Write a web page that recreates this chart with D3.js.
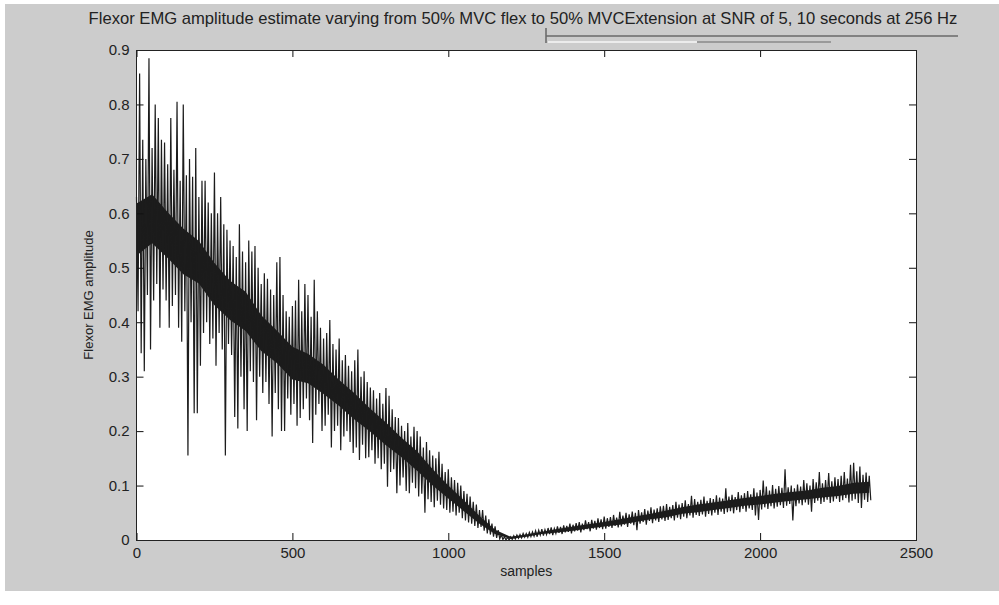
<!DOCTYPE html>
<html>
<head>
<meta charset="utf-8">
<script src="https://cdn.jsdelivr.net/npm/d3@7"></script>
<style>
body { margin: 0; background: #fff; }
svg { display: block; font-family: "Liberation Sans", Arial, sans-serif; }
</style>
</head>
<body>
<svg id="chart" width="999" height="605"></svg>
<script>
const titleText = "Flexor EMG amplitude estimate varying from 50% MVC flex to 50% MVCExtension at SNR of 5, 10 seconds at 256 Hz"
const xLabel = "samples"
const yLabel = "Flexor EMG amplitude"
const xTicks = [0, 500, 1000, 1500, 2000, 2500]
const yTicks = [0, 0.1, 0.2, 0.3, 0.4, 0.5, 0.6, 0.7, 0.8, 0.9]

// spike extremes, one pair per 10-sample bin (sample 0, 10, ... 2350)
const binStep = 10
const spikeHi = [
  0.63, 0.857, 0.735, 0.70, 0.885, 0.72, 0.80, 0.775, 0.735, 0.73,
  0.69, 0.775, 0.68, 0.805, 0.66, 0.80, 0.67, 0.70, 0.667, 0.72,
  0.63, 0.66, 0.66, 0.62, 0.60, 0.675, 0.60, 0.63, 0.58, 0.57,
  0.55, 0.54, 0.52, 0.58, 0.53, 0.51, 0.55, 0.53, 0.54, 0.50,
  0.47, 0.49, 0.48, 0.46, 0.45, 0.51, 0.52, 0.45, 0.42, 0.41,
  0.43, 0.44, 0.478, 0.42, 0.47, 0.45, 0.41, 0.478, 0.42, 0.39,
  0.37, 0.38, 0.404, 0.36, 0.35, 0.37, 0.33, 0.34, 0.32, 0.31,
  0.33, 0.35, 0.30, 0.31, 0.29, 0.28, 0.275, 0.26, 0.27, 0.25,
  0.279, 0.265, 0.24, 0.226, 0.224, 0.21, 0.20, 0.215, 0.19, 0.208,
  0.20, 0.19, 0.17, 0.18, 0.165, 0.155, 0.15, 0.162, 0.14, 0.125,
  0.13, 0.115, 0.11, 0.105, 0.10, 0.09, 0.085, 0.08, 0.07, 0.065,
  0.055, 0.055, 0.045, 0.038, 0.03, 0.025, 0.018, 0.01, 0.006, 0.005,
  0.006, 0.008, 0.009, 0.01, 0.012, 0.012, 0.014, 0.015, 0.017, 0.018,
  0.02, 0.019, 0.022, 0.023, 0.021, 0.025, 0.024, 0.027, 0.026, 0.03,
  0.028, 0.031, 0.033, 0.03, 0.036, 0.033, 0.037, 0.035, 0.04, 0.038,
  0.043, 0.04, 0.042, 0.046, 0.041, 0.052, 0.045, 0.05, 0.047, 0.052,
  0.05, 0.055, 0.051, 0.057, 0.054, 0.06, 0.056, 0.058, 0.062, 0.063,
  0.066, 0.061, 0.064, 0.07, 0.065, 0.068, 0.073, 0.066, 0.081, 0.075,
  0.07, 0.074, 0.08, 0.072, 0.077, 0.075, 0.082, 0.078, 0.076, 0.095,
  0.08, 0.083, 0.079, 0.088, 0.082, 0.086, 0.09, 0.084, 0.095, 0.087,
  0.092, 0.109, 0.098, 0.091, 0.101, 0.094, 0.099, 0.096, 0.13, 0.097,
  0.1, 0.095, 0.102, 0.098, 0.11, 0.104, 0.1, 0.112, 0.106, 0.125,
  0.104, 0.11, 0.123, 0.108, 0.115, 0.112, 0.118, 0.125, 0.113, 0.138,
  0.142, 0.126, 0.135, 0.12, 0.124, 0.118
]
const spikeLo = [
  0.42, 0.343, 0.31, 0.45, 0.35, 0.44, 0.47, 0.39, 0.46, 0.44,
  0.39, 0.43, 0.45, 0.39, 0.364, 0.42, 0.155, 0.40, 0.233, 0.233,
  0.32, 0.38, 0.40, 0.36, 0.37, 0.32, 0.38, 0.35, 0.155, 0.36,
  0.34, 0.226, 0.205, 0.30, 0.24, 0.20, 0.31, 0.29, 0.22, 0.30,
  0.27, 0.29, 0.25, 0.19, 0.27, 0.24, 0.20, 0.20, 0.26, 0.23,
  0.25, 0.21, 0.224, 0.24, 0.26, 0.22, 0.178, 0.23, 0.25, 0.20,
  0.21, 0.23, 0.17, 0.20, 0.21, 0.165, 0.19, 0.20, 0.18, 0.16,
  0.17, 0.147, 0.175, 0.15, 0.152, 0.165, 0.14, 0.15, 0.13, 0.14,
  0.098, 0.125, 0.13, 0.086, 0.10, 0.115, 0.09, 0.086, 0.105, 0.095,
  0.08, 0.085, 0.05, 0.075, 0.07, 0.06, 0.072, 0.065, 0.058, 0.055,
  0.05, 0.052, 0.045, 0.05, 0.04, 0.036, 0.032, 0.03, 0.026, 0.022,
  0.024, 0.017, 0.012, 0.01, 0.006, 0.004, 0.002, 0.001, 0.0, 0.0,
  0.001, 0.002, 0.003, 0.004, 0.005, 0.005, 0.006, 0.007, 0.006, 0.009,
  0.008, 0.01, 0.011, 0.009, 0.012, 0.013, 0.011, 0.014, 0.015, 0.012,
  0.016, 0.017, 0.014, 0.018, 0.02, 0.016, 0.021, 0.019, 0.022, 0.02,
  0.021, 0.024, 0.022, 0.026, 0.023, 0.025, 0.028, 0.024, 0.03, 0.027,
  0.018, 0.03, 0.033, 0.028, 0.035, 0.031, 0.036, 0.033, 0.038, 0.035,
  0.037, 0.04, 0.036, 0.041, 0.038, 0.043, 0.04, 0.045, 0.041, 0.046,
  0.044, 0.047, 0.043, 0.048, 0.045, 0.05, 0.046, 0.052, 0.048, 0.051,
  0.053, 0.049, 0.055, 0.051, 0.057, 0.052, 0.058, 0.055, 0.045, 0.037,
  0.056, 0.06, 0.057, 0.062, 0.058, 0.061, 0.064, 0.059, 0.063, 0.066,
  0.036, 0.062, 0.067, 0.064, 0.069, 0.065, 0.052, 0.068, 0.072, 0.066,
  0.07, 0.074, 0.068, 0.071, 0.076, 0.07, 0.073, 0.077, 0.069, 0.072,
  0.075, 0.068, 0.059, 0.074, 0.07, 0.073
]

// dense core of the trace, every 50 samples
const coreStep = 50
const coreHi = [
  0.618, 0.635, 0.602, 0.572, 0.549, 0.509, 0.476, 0.456, 0.413, 0.385,
  0.355, 0.342, 0.322, 0.294, 0.269, 0.241, 0.216, 0.188, 0.163, 0.13,
  0.10, 0.073, 0.044, 0.019, 0.006, 0.010, 0.015, 0.020, 0.025, 0.029,
  0.033, 0.038, 0.043, 0.048, 0.054, 0.060, 0.065, 0.069, 0.073, 0.077,
  0.081, 0.085, 0.088, 0.091, 0.096, 0.099, 0.105, 0.107
]
const coreLo = [
  0.522, 0.545, 0.518, 0.488, 0.471, 0.431, 0.404, 0.384, 0.347, 0.325,
  0.295, 0.288, 0.268, 0.246, 0.221, 0.199, 0.174, 0.152, 0.127, 0.10,
  0.076, 0.053, 0.030, 0.011, 0.002, 0.006, 0.011, 0.014, 0.017, 0.021,
  0.025, 0.028, 0.033, 0.038, 0.042, 0.048, 0.051, 0.055, 0.059, 0.063,
  0.065, 0.069, 0.072, 0.075, 0.078, 0.081, 0.085, 0.087
]

const svg = d3.select("#chart")
const ink = "#1c1c1c"

svg.append("rect")
  .attr("x", 5).attr("y", 4).attr("width", 994).attr("height", 587)
  .attr("fill", "#cccccc")

const x = d3.scaleLinear().domain([0, 2500]).range([136.5, 916])
const y = d3.scaleLinear().domain([0, 0.9]).range([540, 50])

// plot area
svg.append("rect")
  .attr("x", x(0)).attr("y", y(0.9))
  .attr("width", x(2500) - x(0)).attr("height", y(0) - y(0.9))
  .attr("fill", "#fff")

const plot = svg.append("g")

const coreData = coreHi.map((h, i) => ({s: i * coreStep, hi: h, lo: coreLo[i]}))
plot.append("path")
  .datum(coreData)
  .attr("fill", ink)
  .attr("d", d3.area().x(d => x(d.s)).y0(d => y(d.lo)).y1(d => y(d.hi)))

// the trace itself: up to each bin's peak, down to its trough half a bin later
const trace = spikeHi.flatMap((h, i) => [
  {s: i * binStep, v: h},
  {s: i * binStep + binStep / 2, v: spikeLo[i]}
])
plot.append("path")
  .datum(trace)
  .attr("fill", "none")
  .attr("stroke", ink)
  .attr("stroke-width", 1.2)
  .attr("stroke-linejoin", "miter")
  .attr("d", d3.line().x(d => x(d.s)).y(d => y(d.v)))

// axes, ticks pointing inwards (matlab style)
const fontSize = 15
const styleAxis = g => {
  g.select(".domain").remove()
  g.selectAll(".tick line").attr("stroke", "#111")
  g.selectAll(".tick text").attr("fill", "#222").attr("font-size", fontSize)
    .attr("font-family", "Liberation Sans, Arial, sans-serif")
}

svg.append("g")
  .attr("transform", `translate(0,${y(0)})`)
  .call(d3.axisBottom(x).tickValues(xTicks).tickSize(-7).tickSizeOuter(0).tickPadding(7).tickFormat(d3.format("d")))
  .call(styleAxis)

svg.append("g")
  .attr("transform", `translate(0,${y(0.9)})`)
  .call(d3.axisTop(x).tickValues(xTicks).tickSize(-7).tickSizeOuter(0).tickFormat(""))
  .call(styleAxis)

svg.append("g")
  .attr("transform", `translate(${x(0)},0)`)
  .call(d3.axisLeft(y).tickValues(yTicks).tickSize(-7).tickSizeOuter(0).tickPadding(7).tickFormat(d => d === 0 ? "0" : d3.format(".1f")(d)))
  .call(styleAxis)

svg.append("g")
  .attr("transform", `translate(${x(2500)},0)`)
  .call(d3.axisRight(y).tickValues(yTicks).tickSize(-7).tickSizeOuter(0).tickFormat(""))
  .call(styleAxis)

svg.append("rect")
  .attr("x", x(0)).attr("y", y(0.9))
  .attr("width", x(2500) - x(0)).attr("height", y(0) - y(0.9))
  .attr("fill", "none")
  .attr("stroke", "#222")
  .attr("shape-rendering", "crispEdges")

// labels
svg.append("text")
  .attr("x", (x(0) + x(2500)) / 2)
  .attr("y", 576)
  .attr("text-anchor", "middle")
  .attr("font-size", 14)
  .attr("fill", "#222")
  .text(xLabel)

svg.append("text")
  .attr("transform", `translate(93,${(y(0) + y(0.9)) / 2}) rotate(-90)`)
  .attr("text-anchor", "middle")
  .attr("font-size", 13)
  .attr("fill", "#222")
  .text(yLabel)

svg.append("text")
  .attr("x", 523)
  .attr("y", 24)
  .attr("text-anchor", "middle")
  .attr("font-size", 16.6)
  .attr("fill", "#222")
  .text(titleText)

// leftover window chrome under the title
const chrome = svg.append("g")
chrome.append("line").attr("x1", 546).attr("x2", 546).attr("y1", 28).attr("y2", 43)
  .attr("stroke", "#666").attr("stroke-width", 1.5)
chrome.append("line").attr("x1", 546).attr("x2", 958).attr("y1", 36).attr("y2", 36)
  .attr("stroke", "#6a6a6a").attr("stroke-width", 1.5)
chrome.append("line").attr("x1", 548).attr("x2", 697).attr("y1", 42).attr("y2", 42)
  .attr("stroke", "#ececec").attr("stroke-width", 2)
chrome.append("line").attr("x1", 697).attr("x2", 831).attr("y1", 42).attr("y2", 42)
  .attr("stroke", "#9a9a9a").attr("stroke-width", 2)
</script>
</body>
</html>
